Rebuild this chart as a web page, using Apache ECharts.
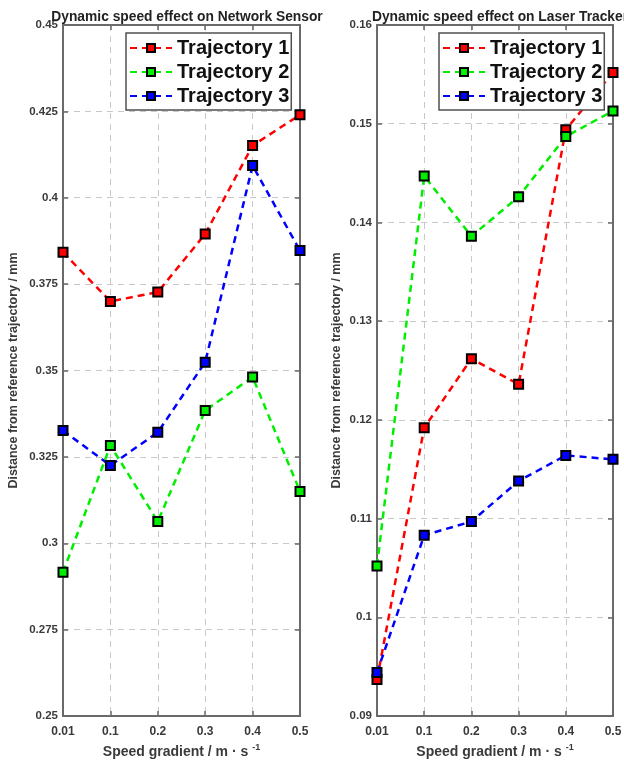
<!DOCTYPE html>
<html>
<head>
<meta charset="utf-8">
<script src="https://cdn.jsdelivr.net/npm/echarts@6/dist/echarts.min.js"></script>
<style>
  html, body { margin: 0; padding: 0; background: #fff; }
  #chart { width: 624px; height: 760px; }
</style>
</head>
<body>
<div id="chart"></div>
<script>
// Speed gradient categories (m/s)
const speeds = ['0.01', '0.1', '0.2', '0.3', '0.4', '0.5'];
const trajectoryNames = ['Trajectory 1', 'Trajectory 2', 'Trajectory 3'];

// Network Sensor: distance from reference trajectory (mm)
const sensorTraj1 = [0.3842, 0.3700, 0.3727, 0.3895, 0.4151, 0.4240];
const sensorTraj2 = [0.2916, 0.3283, 0.3063, 0.3384, 0.3481, 0.3150];
const sensorTraj3 = [0.3326, 0.3225, 0.3321, 0.3524, 0.4093, 0.3847];

// Laser Tracker: distance from reference trajectory (mm)
const trackerTraj1 = [0.0937, 0.1192, 0.1262, 0.1236, 0.1494, 0.1552];
const trackerTraj2 = [0.1052, 0.1447, 0.1386, 0.1426, 0.1487, 0.1513];
const trackerTraj3 = [0.0944, 0.1083, 0.1097, 0.1138, 0.1164, 0.1160];

const colors = ['#ff0000', '#00ee00', '#0000ff'];
const font = "'Liberation Sans', Arial, sans-serif";
const axisGray = '#6a6a6a';
const labelColor = '#3a3a3a';

const chart = echarts.init(document.getElementById('chart'), null, { renderer: 'canvas' });

function bottomAxis(gridIndex) {
  return {
    type: 'category', gridIndex, data: speeds, boundaryGap: false, position: 'bottom',
    name: 'Speed gradient / m · s {sup|-1}', nameLocation: 'middle', nameGap: 27,
    nameTextStyle: {
      fontFamily: font, fontWeight: 'bold', fontSize: 14, color: labelColor,
      rich: { sup: { fontFamily: font, fontWeight: 'bold', fontSize: 9, color: labelColor, padding: [0, 0, 10, 0] } }
    },
    axisLine: { show: true, lineStyle: { color: axisGray, width: 2 } },
    axisTick: { show: true, inside: true, length: 5, lineStyle: { color: axisGray, width: 1.5 } },
    axisLabel: { fontFamily: font, fontWeight: 'bold', fontSize: 12, color: labelColor, margin: 10 },
    splitLine: { show: true, lineStyle: { color: '#c8c8c8', type: [6, 5], width: 1 } }
  };
}
function topAxis(gridIndex) {
  return {
    type: 'category', gridIndex, data: speeds, boundaryGap: false, position: 'top',
    axisLine: { show: true, lineStyle: { color: axisGray, width: 2 } },
    axisTick: { show: true, inside: true, length: 5, lineStyle: { color: axisGray, width: 1.5 } },
    axisLabel: { show: false }, splitLine: { show: false }
  };
}
function leftAxis(gridIndex, min, max, interval, nameGap) {
  return {
    type: 'value', gridIndex, min, max, interval, position: 'left',
    name: 'Distance from reference trajectory / mm', nameLocation: 'middle', nameGap,
    nameTextStyle: { fontFamily: font, fontWeight: 'bold', fontSize: 12.5, color: labelColor },
    axisLine: { show: true, lineStyle: { color: axisGray, width: 2 } },
    axisTick: { show: true, inside: true, length: 5, lineStyle: { color: axisGray, width: 1.5 } },
    axisLabel: { fontFamily: font, fontWeight: 'bold', fontSize: 11.5, color: labelColor, margin: 5 },
    splitLine: { show: true, lineStyle: { color: '#c8c8c8', type: [6, 5], width: 1 } }
  };
}
function rightAxis(gridIndex, min, max, interval) {
  return {
    type: 'value', gridIndex, min, max, interval, position: 'right',
    axisLine: { show: true, lineStyle: { color: axisGray, width: 2 } },
    axisTick: { show: true, inside: true, length: 5, lineStyle: { color: axisGray, width: 1.5 } },
    axisLabel: { show: false }, splitLine: { show: false }
  };
}
function lineSeries(name, data, idx, axisIdx) {
  return {
    type: 'line', name, data, xAxisIndex: axisIdx, yAxisIndex: axisIdx,
    symbol: 'rect', symbolSize: 9,
    lineStyle: { color: colors[idx], width: 2.5, type: [7, 5] },
    itemStyle: { color: colors[idx], borderColor: '#000', borderWidth: 2 },
    emphasis: { disabled: true }, animation: false
  };
}
function legendAt(left) {
  return {
    data: trajectoryNames, orient: 'vertical', left, top: 33,
    itemWidth: 42, itemHeight: 10, itemGap: 4,
    padding: [5, 2, 4, 3],
    backgroundColor: '#fff', borderColor: '#505050', borderWidth: 1.5,
    textStyle: { fontFamily: font, fontWeight: 'bold', fontSize: 20, color: '#111' },
    selectedMode: false
  };
}

chart.setOption({
  animation: false,
  backgroundColor: '#fff',
  title: [
    { text: 'Dynamic speed effect on Network Sensor', left: 182, top: 5, textAlign: 'center',
      textStyle: { fontFamily: font, fontWeight: 'bold', fontSize: 13.8, color: '#222' } },
    { text: 'Dynamic speed effect on Laser Tracker', left: 495, top: 5, textAlign: 'center',
      textStyle: { fontFamily: font, fontWeight: 'bold', fontSize: 13.8, color: '#222' } }
  ],
  legend: [legendAt(126), legendAt(439)],
  grid: [
    { left: 63, right: 324, top: 25, bottom: 44, containLabel: false, outerBoundsMode: 'none' },
    { left: 377, right: 11, top: 25, bottom: 44, containLabel: false, outerBoundsMode: 'none' }
  ],
  xAxis: [bottomAxis(0), bottomAxis(1), topAxis(0), topAxis(1)],
  yAxis: [
    leftAxis(0, 0.25, 0.45, 0.025, 43),
    leftAxis(1, 0.09, 0.16, 0.01, 34),
    rightAxis(0, 0.25, 0.45, 0.025),
    rightAxis(1, 0.09, 0.16, 0.01)
  ],
  series: [
    lineSeries('Trajectory 1', sensorTraj1, 0, 0),
    lineSeries('Trajectory 2', sensorTraj2, 1, 0),
    lineSeries('Trajectory 3', sensorTraj3, 2, 0),
    lineSeries('Trajectory 1', trackerTraj1, 0, 1),
    lineSeries('Trajectory 2', trackerTraj2, 1, 1),
    lineSeries('Trajectory 3', trackerTraj3, 2, 1)
  ]
});
</script>
</body>
</html>
